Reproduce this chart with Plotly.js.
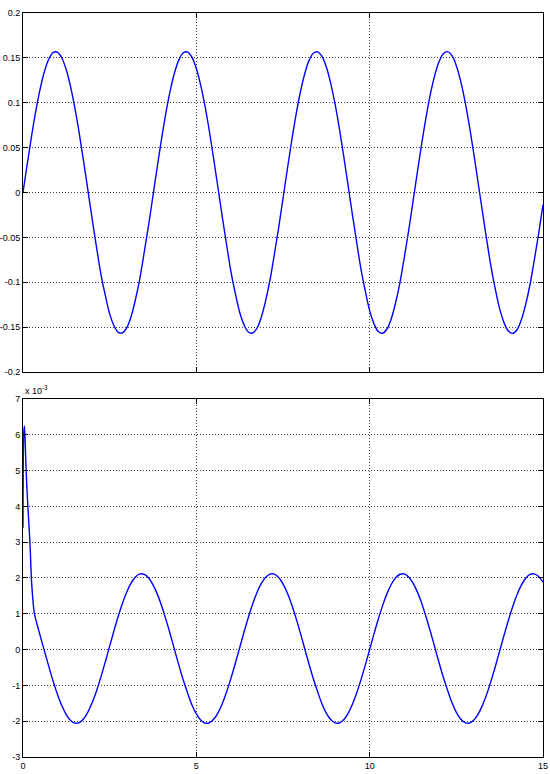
<!DOCTYPE html>
<html>
<head>
<meta charset="utf-8">
<script src="https://cdn.plot.ly/plotly-3.0.1.min.js"></script>
<style>html,body{margin:0;padding:0;background:#fff;}#chart{width:550px;height:774px;}</style>
</head>
<body>
<div id="chart"></div>
<script>
// Time samples (s)
const timeTop = [0,0.125,0.25,0.375,0.5,0.625,0.75,0.875,1,1.125,1.25,1.375,1.5,1.625,1.75,1.875,2,2.125,2.25,2.375,2.5,2.625,2.75,2.875,
  3,3.125,3.25,3.375,3.5,3.625,3.75,3.875,4,4.125,4.25,4.375,4.5,4.625,4.75,4.875,5,5.125,5.25,5.375,5.5,5.625,5.75,5.875,
  6,6.125,6.25,6.375,6.5,6.625,6.75,6.875,7,7.125,7.25,7.375,7.5,7.625,7.75,7.875,8,8.125,8.25,8.375,8.5,8.625,8.75,8.875,
  9,9.125,9.25,9.375,9.5,9.625,9.75,9.875,10,10.125,10.25,10.375,10.5,10.625,10.75,10.875,11,11.125,11.25,11.375,11.5,11.625,11.75,11.875,
  12,12.125,12.25,12.375,12.5,12.625,12.75,12.875,13,13.125,13.25,13.375,13.5,13.625,13.75,13.875,14,14.125,14.25,14.375,14.5,14.625,14.75,14.875,15];
// Top signal values
const signalTop = [0,0.0325,0.0636,0.0920,0.1164,0.1357,0.1491,0.1561,0.1562,0.1496,0.1365,0.1175,0.0934,0.0654,0.0341,0.0017,
  -0.0308,-0.0620,-0.0915,-0.1148,-0.1353,-0.1485,-0.1559,-0.1563,-0.1502,-0.1374,-0.1183,-0.0948,-0.0660,-0.0359,-0.0034,
  0.0292,0.0605,0.0892,0.1140,0.1339,0.1480,0.1557,0.1565,0.1506,0.1382,0.1197,0.0962,0.0685,0.0374,0.0051,
  -0.0275,-0.0588,-0.0886,-0.1124,-0.1335,-0.1474,-0.1554,-0.1566,-0.1512,-0.1389,-0.1205,-0.0975,-0.0691,-0.0392,-0.0068,
  0.0258,0.0574,0.0864,0.1117,0.1321,0.1469,0.1551,0.1567,0.1516,0.1398,0.1219,0.0989,0.0715,0.0408,0.0085,
  -0.0241,-0.0556,-0.0856,-0.1100,-0.1316,-0.1462,-0.1549,-0.1568,-0.1521,-0.1404,-0.1226,-0.1001,-0.0722,-0.0425,-0.0102,
  0.0225,0.0542,0.0835,0.1093,0.1302,0.1456,0.1546,0.1569,0.1524,0.1413,0.1241,0.1016,0.0746,0.0441,0.0119,
  -0.0208,-0.0525,-0.0826,-0.1076,-0.1297,-0.1450,-0.1543,-0.1570,-0.1529,-0.1419,-0.1247,-0.1028,-0.0751,-0.0457,-0.0136];
// Bottom signal time samples (s)
const timeBottom = [0,0.02,0.04,0.06,0.09,0.14,0.2,0.25,0.33,0.42,0.5,0.625,0.75,0.875,1,1.125,1.25,1.375,1.5,1.625,1.75,1.875,2,2.125,2.25,2.375,2.5,2.625,2.75,2.875,
  3,3.125,3.25,3.375,3.5,3.625,3.75,3.875,4,4.125,4.25,4.375,4.5,4.625,4.75,4.875,5,5.125,5.25,5.375,5.5,5.625,5.75,5.875,
  6,6.125,6.25,6.375,6.5,6.625,6.75,6.875,7,7.125,7.25,7.375,7.5,7.625,7.75,7.875,8,8.125,8.25,8.375,8.5,8.625,8.75,8.875,
  9,9.125,9.25,9.375,9.5,9.625,9.75,9.875,10,10.125,10.25,10.375,10.5,10.625,10.75,10.875,11,11.125,11.25,11.375,11.5,11.625,11.75,11.875,
  12,12.125,12.25,12.375,12.5,12.625,12.75,12.875,13,13.125,13.25,13.375,13.5,13.625,13.75,13.875,14,14.125,14.25,14.375,14.5,14.625,14.75,14.875,15];
// Bottom signal values, in units of 1e-3
const signalBottom = [3.4,6.0,6.25,5.9,5.0,4.0,3.0,1.85,1.0,0.66,0.37,-0.060,-0.491,-0.901,-1.266,-1.578,-1.820,-1.981,-2.055,-2.039,-1.933,-1.741,
  -1.473,-1.140,-0.756,-0.338,0.097,0.529,0.937,1.308,1.622,1.870,2.038,2.114,2.101,2.001,1.809,1.550,1.220,0.836,0.423,
  -0.015,-0.448,-0.857,-1.217,-1.548,-1.797,-1.968,-2.052,-2.045,-1.948,-1.765,-1.504,-1.177,-0.798,-0.382,
  0.052,0.485,0.897,1.271,1.594,1.848,2.023,2.110,2.108,2.015,1.835,1.582,1.258,0.878,0.467,
  0.031,-0.403,-0.815,-1.180,-1.518,-1.774,-1.954,-2.047,-2.050,-1.962,-1.788,-1.535,-1.214,-0.839,-0.426,
  0.006,0.440,0.855,1.235,1.564,1.825,2.008,2.105,2.113,2.029,1.859,1.613,1.295,0.919,0.512,
  0.076,-0.359,-0.773,-1.143,-1.487,-1.752,-1.940,-2.042,-2.054,-1.975,-1.810,-1.565,-1.251,-0.880,-0.471,
  -0.039,0.396,0.814,1.198,1.532,1.801,1.993,2.099,2.116,2.042,1.883];
const xTicks = [0,5,10,15];
const xTickText = ['0','5','10','15'];
const yTopTicks = [-0.2,-0.15,-0.1,-0.05,0,0.05,0.1,0.15,0.2];
const yTopText = ['-0.2','-0.15','-0.1','-0.05','0','0.05','0.1','0.15','0.2'];
const yBotTicks = [-3,-2,-1,0,1,2,3,4,5,6,7];
const yBotText = ['-3','-2','-1','0','1','2','3','4','5','6','7'];
const exponentLabel = 'x 10<sup>-3</sup>';

const FONT = '"Liberation Sans Narrow", "Arial Narrow", "Liberation Sans", Arial, sans-serif';
const gridStyle = {gridcolor:'rgba(0,0,0,0.75)', griddash:'1px,2px', gridwidth:1};
const axisCommon = {showline:true, linecolor:'#000', linewidth:1, mirror:'ticks', ticks:'inside', ticklen:5, tickcolor:'#000',
  zeroline:false, showgrid:true, tickfont:{family:FONT, size:9, color:'#000'}, ...gridStyle};

const traces = [
  {x:timeTop, y:signalTop, type:'scatter', mode:'lines', line:{color:'#0000ff', width:1.4, shape:'spline', smoothing:1}, xaxis:'x', yaxis:'y', hoverinfo:'skip'},
  {x:timeBottom, y:signalBottom, type:'scatter', mode:'lines', line:{color:'#0000ff', width:1.4, shape:'spline', smoothing:0.8}, xaxis:'x2', yaxis:'y2', hoverinfo:'skip'}
];

const layout = {
  width:550, height:774,
  margin:{l:23, r:7, t:13, b:17},
  paper_bgcolor:'#fff', plot_bgcolor:'#fff',
  showlegend:false,
  xaxis:{...axisCommon, domain:[0,1], range:[0,15], tickvals:xTicks, ticktext:xTickText, showticklabels:false, anchor:'y'},
  yaxis:{...axisCommon, domain:[0.5175,1], range:[-0.2,0.2], tickvals:yTopTicks, ticktext:yTopText, anchor:'x'},
  xaxis2:{...axisCommon, domain:[0,1], range:[0,15], tickvals:xTicks, ticktext:xTickText, anchor:'y2'},
  yaxis2:{...axisCommon, domain:[0,0.4812], range:[-3,7], tickvals:yBotTicks, ticktext:yBotText, anchor:'x2'},
  annotations:[{text:exponentLabel, xref:'paper', yref:'paper', x:0, y:0.4812, xanchor:'left', yanchor:'bottom', yshift:1, showarrow:false,
    font:{family:FONT, size:9, color:'#000'}}]
};
Plotly.newPlot('chart', traces, layout, {staticPlot:true, displayModeBar:false});
</script>
</body>
</html>
